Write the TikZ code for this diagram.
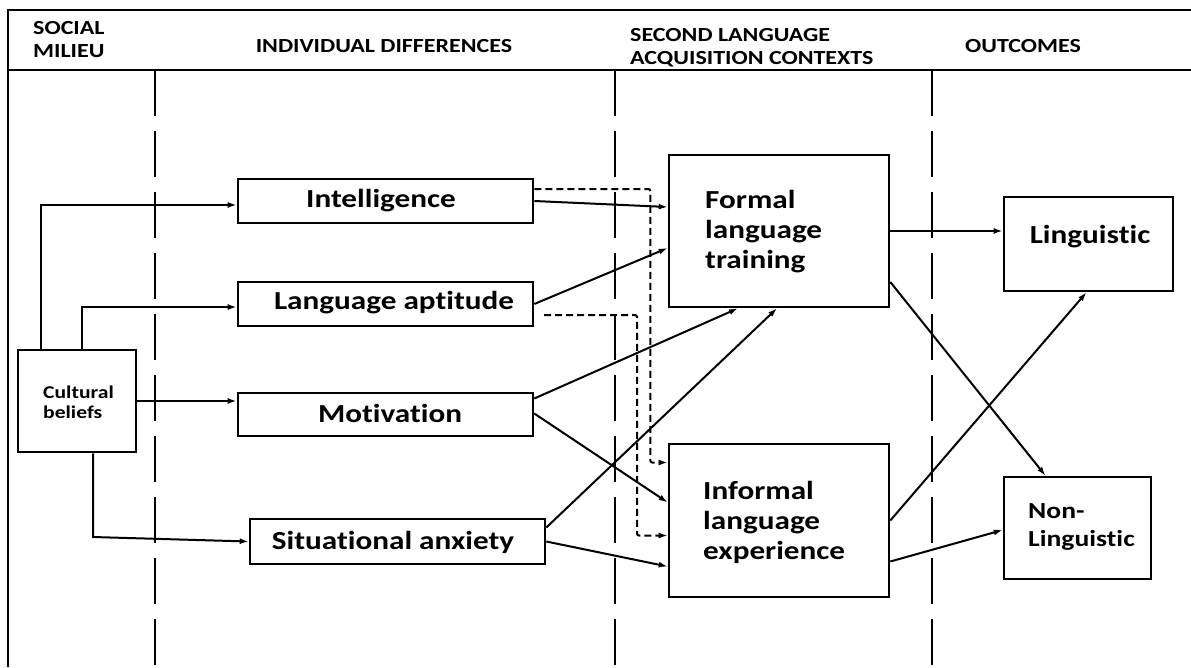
\documentclass[tikz,border=0pt]{standalone}
\usepackage{fontspec}
\setmainfont{Carlito}[FakeStretch=1.2, Ligatures=NoCommon]
\usetikzlibrary{arrows.meta}
\tikzset{
  boxnode/.style={draw, line width=2.6pt, inner sep=0pt, anchor=center},
  boxtext/.style={font=\bfseries\fontsize{26}{30}\selectfont, inner sep=0pt, align=left},
  smalltext/.style={font=\bfseries\fontsize{18}{20}\selectfont, inner sep=0pt, align=left},
  hdrtext/.style={font=\bfseries\fontsize{20}{23}\selectfont, inner sep=0pt, align=left},
  conn/.style={line width=2pt, -{Latex[length=9pt,width=6pt]}},
  dconn/.style={conn, dash pattern=on 7pt off 4pt, rounded corners=2pt},
  frameline/.style={line width=2.8pt},
  colline/.style={line width=2.2pt, dash pattern=on 46pt off 15pt}
}
\begin{document}
\begin{tikzpicture}[x=1pt, y=-1pt]
\useasboundingbox (0,0) rectangle (1191,667);
% frame
\coordinate (fbl) at (8,667);
\coordinate (ftl) at (8,10);
\coordinate (ftr) at (1191,10);
\coordinate (hl) at (8,70);
\coordinate (hr) at (1191,70);
\draw[frameline] (fbl) -- (ftl) -- (ftr);
\draw[frameline] (hl) -- (hr);
% column lines
\foreach \cx/\nm in {155/a, 615/b, 932/c}{
  \coordinate (col\nm t) at (\cx,70);
  \coordinate (col\nm b) at (\cx,667);
  \draw[colline] (col\nm t) -- (col\nm b);
}
% headers
\node[hdrtext, anchor=west] (h1) at (33,40) {SOCIAL\\MILIEU};
\node[hdrtext] (h2) at (384,46) {INDIVIDUAL DIFFERENCES};
\node[hdrtext, anchor=west] (h3) at (630,48) {SECOND LANGUAGE\\ACQUISITION CONTEXTS};
\node[hdrtext, anchor=west] (h4) at (965,46) {OUTCOMES};
% boxes
\node[boxnode, minimum width=118pt, minimum height=102pt] (cult) at (77,401) {};
\node[boxnode, minimum width=295pt, minimum height=44pt] (intel) at (385.5,201) {};
\node[boxnode, minimum width=295pt, minimum height=44pt] (apt) at (385.5,304) {};
\node[boxnode, minimum width=295pt, minimum height=43pt] (motiv) at (385.5,414.5) {};
\node[boxnode, minimum width=295pt, minimum height=45pt] (anx) at (397.5,541.5) {};
\node[boxnode, minimum width=220pt, minimum height=152pt] (formal) at (779,231) {};
\node[boxnode, minimum width=220pt, minimum height=153pt] (informal) at (779,520.5) {};
\node[boxnode, minimum width=169pt, minimum height=94pt] (ling) at (1088.5,244) {};
\node[boxnode, minimum width=147pt, minimum height=102pt] (nonling) at (1077.5,528) {};
% box texts
\node[smalltext, anchor=west] (cultT) at (43,402) {Cultural\\beliefs};
\node[boxtext] (intelT) at (381,201) {Intelligence};
\node[boxtext] (aptT) at (394,303) {Language aptitude};
\node[boxtext] (motivT) at (390,413) {Motivation};
\node[boxtext] (anxT) at (393,542) {Situational anxiety};
\node[boxtext, anchor=west] (formalT) at (705,232) {Formal\\language\\training};
\node[boxtext, anchor=west] (informalT) at (703,522) {Informal\\language\\experience};
\node[boxtext] (lingT) at (1090,237) {Linguistic};
\node[boxtext, anchor=west, font=\bfseries\fontsize{23}{28}\selectfont] (nonlingT) at (1028,527) {Non-\\Linguistic};
% connectors from cultural beliefs
\draw[conn] ([xshift=-36pt]cult.north) |- ([yshift=-4pt]intel.west);
\draw[conn] ([xshift=5pt]cult.north) |- ([yshift=-3pt]apt.west);
\draw[conn] (cult.east) -- (cult.east -| motiv.west);
\coordinate (ac) at (93,537);
\draw[conn] (cult.south -| ac) -- (ac) -- (anx.west);
% dashed connectors
\draw[dconn] ([yshift=12pt]intel.east) -- ++(116,0) |- ([yshift=58pt]informal.west);
\coordinate (aptd) at (544,315);
\draw[dconn] (aptd) -- ++(93,0) |- ([yshift=-15pt]informal.west);
% solid connectors to contexts
\draw[conn] (intel.east) -- ([yshift=24pt]formal.west);
\draw[conn] (apt.east) -- ([yshift=-17pt]formal.west);
\draw[conn] ([yshift=16pt]motiv.east) -- ([xshift=-41pt]formal.south);
\draw[conn] ([yshift=1pt]motiv.east) -- ([yshift=18pt]informal.west);
\draw[conn] ([yshift=14pt]anx.east) -- ([xshift=-2pt]formal.south);
\draw[conn] (anx.east) -- ([yshift=-46pt]informal.west);
% outcomes
\draw[conn] (formal.east) -- (formal.east -| ling.west);
\draw[conn] ([yshift=-51pt]formal.east) -- ([xshift=-32pt]nonling.north);
\draw[conn] (informal.east) -- ([xshift=-2pt]ling.south);
\draw[conn] ([yshift=-41pt]informal.east) -- ([yshift=-2pt]nonling.west);
\end{tikzpicture}
\end{document}
